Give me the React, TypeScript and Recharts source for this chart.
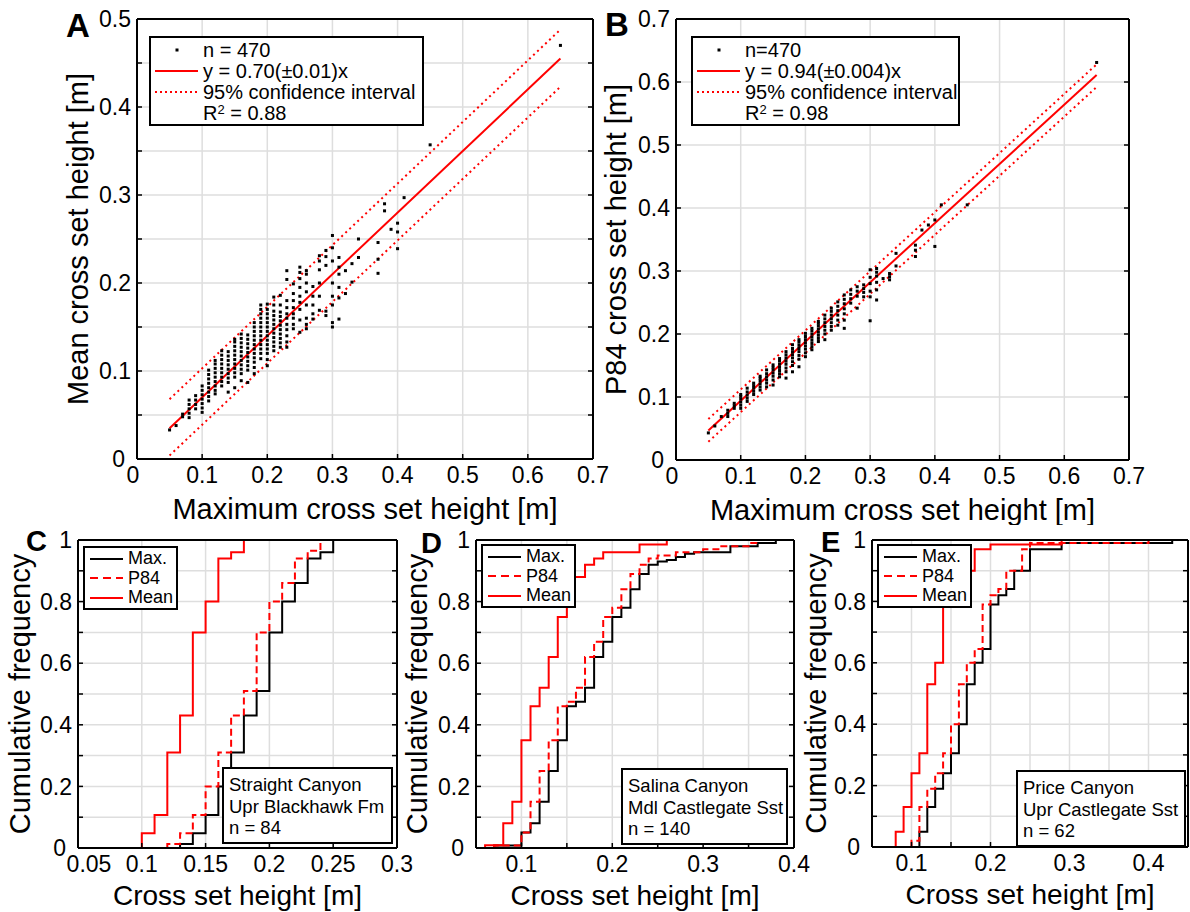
import React from 'react';
import { ComposedChart, Scatter, Line, XAxis, YAxis, CartesianGrid, Legend } from 'recharts';

const FONT = '"Liberation Sans", Arial, Helvetica, sans-serif';
const RED = '#ff0000';
const AXIS = { stroke: '#000', strokeWidth: 2 };

type Col = [number, number[]];

const meanCols: Col[] = [
  [0.05, [0.033]],
  [0.06, [0.038]],
  [0.07, [0.048, 0.051]],
  [0.08, [0.047, 0.052, 0.057, 0.062, 0.067]],
  [0.09, [0.057, 0.062, 0.067, 0.072]],
  [0.1, [0.053, 0.058, 0.063, 0.068, 0.073, 0.078, 0.083]],
  [0.11, [0.066, 0.071, 0.076, 0.081, 0.086, 0.091, 0.096, 0.101]],
  [0.12, [0.074, 0.078, 0.083, 0.088, 0.093, 0.098, 0.103, 0.108, 0.112]],
  [0.13, [0.083, 0.088, 0.093, 0.098, 0.103, 0.108, 0.113, 0.118, 0.123]],
  [0.14, [0.076, 0.087, 0.092, 0.097, 0.102, 0.107, 0.112, 0.117, 0.122]],
  [0.15, [0.081, 0.093, 0.098, 0.103, 0.108, 0.113, 0.118, 0.123, 0.128, 0.133, 0.136]],
  [0.16, [0.089, 0.097, 0.102, 0.107, 0.112, 0.117, 0.122, 0.127, 0.132, 0.137, 0.142]],
  [0.17, [0.087, 0.101, 0.106, 0.111, 0.116, 0.121, 0.126, 0.131, 0.136, 0.141]],
  [0.18, [0.097, 0.104, 0.11, 0.115, 0.12, 0.125, 0.13, 0.135, 0.14, 0.145, 0.15, 0.155]],
  [0.19, [0.114, 0.12, 0.125, 0.13, 0.135, 0.14, 0.145, 0.15, 0.155, 0.16, 0.165, 0.17, 0.175]],
  [0.2, [0.106, 0.113, 0.12, 0.125, 0.13, 0.135, 0.14, 0.145, 0.15, 0.155, 0.16, 0.165, 0.17, 0.176]],
  [0.21, [0.123, 0.128, 0.133, 0.138, 0.143, 0.148, 0.153, 0.158, 0.163, 0.168, 0.175, 0.184]],
  [0.22, [0.127, 0.132, 0.137, 0.142, 0.147, 0.152, 0.157, 0.162, 0.167, 0.175, 0.186]],
  [0.23, [0.127, 0.133, 0.14, 0.147, 0.153, 0.16, 0.165, 0.172, 0.18, 0.204, 0.214]],
  [0.24, [0.148, 0.153, 0.16, 0.165, 0.172, 0.18, 0.188, 0.199]],
  [0.25, [0.144, 0.158, 0.17, 0.178, 0.185, 0.195, 0.205, 0.212, 0.218]],
  [0.26, [0.148, 0.153, 0.16, 0.175, 0.19, 0.2, 0.21, 0.214]],
  [0.27, [0.159, 0.165, 0.175, 0.185, 0.196]],
  [0.28, [0.169, 0.185, 0.2, 0.215, 0.225, 0.231]],
  [0.29, [0.163, 0.168, 0.22, 0.23, 0.237]],
  [0.3, [0.15, 0.155, 0.175, 0.185, 0.2, 0.225, 0.24, 0.254]],
  [0.31, [0.159, 0.183, 0.195, 0.21, 0.218, 0.229]],
  [0.32, [0.188, 0.214]],
  [0.33, [0.201, 0.222]],
  [0.34, [0.229, 0.25]],
  [0.37, [0.211, 0.227, 0.246]],
  [0.38, [0.282, 0.29]],
  [0.39, [0.261]],
  [0.4, [0.239, 0.258, 0.268]],
  [0.41, [0.297]],
  [0.45, [0.357]],
  [0.65, [0.47]],
];

const p84Cols: Col[] = [
  [0.05, [0.043]],
  [0.06, [0.054]],
  [0.07, [0.069]],
  [0.08, [0.069, 0.074, 0.079]],
  [0.09, [0.082, 0.086, 0.09]],
  [0.1, [0.082, 0.087, 0.092, 0.097, 0.101, 0.104]],
  [0.11, [0.093, 0.098, 0.103, 0.108, 0.114]],
  [0.12, [0.104, 0.109, 0.114, 0.118, 0.122]],
  [0.13, [0.111, 0.116, 0.121, 0.126, 0.13, 0.133]],
  [0.14, [0.116, 0.122, 0.127, 0.132, 0.137, 0.143]],
  [0.15, [0.119, 0.127, 0.133, 0.138, 0.143, 0.147, 0.151]],
  [0.16, [0.132, 0.137, 0.142, 0.147, 0.152, 0.157, 0.161]],
  [0.17, [0.13, 0.14, 0.146, 0.152, 0.157, 0.162, 0.167, 0.172]],
  [0.18, [0.14, 0.15, 0.156, 0.162, 0.167, 0.172, 0.177, 0.183]],
  [0.19, [0.148, 0.16, 0.166, 0.172, 0.177, 0.182, 0.187, 0.191]],
  [0.2, [0.164, 0.17, 0.176, 0.181, 0.186, 0.191, 0.196, 0.201]],
  [0.21, [0.175, 0.18, 0.185, 0.19, 0.195, 0.2, 0.205, 0.209]],
  [0.22, [0.188, 0.193, 0.198, 0.203, 0.208, 0.213, 0.217, 0.22]],
  [0.23, [0.191, 0.2, 0.206, 0.212, 0.218, 0.224, 0.23]],
  [0.24, [0.206, 0.212, 0.218, 0.224, 0.23, 0.236, 0.241]],
  [0.25, [0.214, 0.222, 0.23, 0.237, 0.244, 0.251]],
  [0.26, [0.209, 0.222, 0.232, 0.24, 0.248, 0.255, 0.262]],
  [0.27, [0.249, 0.256, 0.263, 0.27]],
  [0.28, [0.241, 0.26, 0.268, 0.275]],
  [0.29, [0.259, 0.266, 0.272, 0.278]],
  [0.3, [0.221, 0.259, 0.268, 0.28, 0.29, 0.302]],
  [0.31, [0.254, 0.27, 0.282, 0.292, 0.298, 0.304]],
  [0.32, [0.288]],
  [0.33, [0.286, 0.291, 0.296]],
  [0.34, [0.308, 0.328]],
  [0.37, [0.323, 0.333, 0.341]],
  [0.38, [0.365]],
  [0.39, [0.373]],
  [0.4, [0.339, 0.381]],
  [0.41, [0.405]],
  [0.45, [0.405]],
  [0.65, [0.631]],
];

// regression lines and 95% bands, evaluated at the ends of the data range
const fitX = [0.05, 0.65];
const meanFit = [0.035, 0.455];
const meanUpper = [0.068, 0.488];
const meanLower = [0.004, 0.423];
const p84Fit = [0.047, 0.611];
const p84Upper = [0.065, 0.628];
const p84Lower = [0.029, 0.592];

// empirical CDF steps: [cross set height, cumulative frequency]
type Step = [number, number][];

const straightMax: Step = [[0.13, 0], [0.13, 0.013], [0.14, 0.048], [0.15, 0.107], [0.16, 0.2], [0.17, 0.31], [0.18, 0.43], [0.19, 0.51], [0.2, 0.7], [0.21, 0.8], [0.22, 0.86], [0.23, 0.94], [0.24, 0.96], [0.25, 1]];
const straightP84: Step = [[0.12, 0], [0.12, 0.013], [0.13, 0.048], [0.14, 0.107], [0.15, 0.2], [0.16, 0.31], [0.17, 0.43], [0.18, 0.51], [0.19, 0.7], [0.2, 0.8], [0.21, 0.86], [0.22, 0.94], [0.23, 0.965], [0.24, 0.99]];
const straightMean: Step = [[0.1, 0], [0.1, 0.048], [0.11, 0.107], [0.12, 0.31], [0.13, 0.43], [0.14, 0.7], [0.15, 0.8], [0.16, 0.94], [0.17, 0.96], [0.18, 1]];

const salinaMax: Step = [[0.07, 0], [0.07, 0.008], [0.1, 0.05], [0.11, 0.08], [0.12, 0.15], [0.13, 0.25], [0.14, 0.35], [0.15, 0.46], [0.16, 0.475], [0.17, 0.52], [0.18, 0.62], [0.19, 0.67], [0.2, 0.75], [0.21, 0.78], [0.22, 0.84], [0.23, 0.89], [0.24, 0.92], [0.25, 0.93], [0.26, 0.935], [0.27, 0.945], [0.28, 0.955], [0.29, 0.96], [0.33, 0.98], [0.36, 0.99], [0.38, 1]];
const salinaP84: Step = [[0.07, 0], [0.07, 0.008], [0.1, 0.05], [0.11, 0.15], [0.12, 0.25], [0.13, 0.35], [0.14, 0.46], [0.15, 0.475], [0.16, 0.52], [0.17, 0.62], [0.18, 0.67], [0.19, 0.75], [0.2, 0.78], [0.21, 0.84], [0.22, 0.89], [0.23, 0.92], [0.24, 0.94], [0.25, 0.95], [0.27, 0.96], [0.3, 0.97], [0.32, 0.98], [0.35, 0.99], [0.36, 1]];
const salinaMean: Step = [[0.06, 0], [0.06, 0.009], [0.08, 0.08], [0.09, 0.15], [0.1, 0.35], [0.11, 0.46], [0.12, 0.52], [0.13, 0.62], [0.14, 0.75], [0.15, 0.88], [0.17, 0.92], [0.18, 0.94], [0.19, 0.96], [0.23, 0.985], [0.26, 1]];

const priceMax: Step = [[0.11, 0], [0.11, 0.05], [0.12, 0.13], [0.13, 0.19], [0.14, 0.24], [0.15, 0.305], [0.16, 0.4], [0.17, 0.53], [0.18, 0.6], [0.19, 0.645], [0.2, 0.79], [0.21, 0.82], [0.22, 0.84], [0.23, 0.9], [0.25, 0.97], [0.29, 0.99], [0.43, 1]];
const priceP84: Step = [[0.1, 0], [0.1, 0.02], [0.11, 0.13], [0.12, 0.19], [0.13, 0.24], [0.14, 0.305], [0.15, 0.4], [0.16, 0.53], [0.17, 0.6], [0.18, 0.645], [0.19, 0.79], [0.2, 0.82], [0.21, 0.84], [0.22, 0.9], [0.24, 0.97], [0.25, 0.99], [0.4, 1]];
const priceMean: Step = [[0.08, 0], [0.08, 0.05], [0.09, 0.13], [0.1, 0.24], [0.11, 0.305], [0.12, 0.53], [0.13, 0.6], [0.14, 0.9], [0.18, 0.97], [0.2, 0.985], [0.29, 1]];

// ticks (gridlines) and which of them carry a label
const abXTicks = [0, 0.1, 0.2, 0.3, 0.4, 0.5, 0.6, 0.7];
const aYTicks = [0, 0.05, 0.1, 0.15, 0.2, 0.25, 0.3, 0.35, 0.4, 0.45, 0.5];
const aYLabels = [0, 0.1, 0.2, 0.3, 0.4, 0.5];
const bYTicks = [0, 0.1, 0.2, 0.3, 0.4, 0.5, 0.6, 0.7];
const cXTicks = [0.05, 0.1, 0.15, 0.2, 0.25, 0.3];
const dXTicks = [0.05, 0.1, 0.15, 0.2, 0.25, 0.3, 0.35, 0.4];
const eXTicks = [0.05, 0.1, 0.15, 0.2, 0.25, 0.3, 0.35, 0.4, 0.45];
const deXLabels = [0.1, 0.2, 0.3, 0.4];
const cdfYTicks = [0, 0.1, 0.2, 0.3, 0.4, 0.5, 0.6, 0.7, 0.8, 0.9, 1];
const cdfYLabels = [0, 0.2, 0.4, 0.6, 0.8, 1];

const toScatter = (cols: Col[]) => cols.flatMap(([x, ys]) => ys.map((y) => ({ x, y })));
const toLine = (xs: number[], ys: number[]) => xs.map((x, i) => ({ x, y: ys[i] }));
const toSteps = (s: Step) => s.map(([x, y]) => ({ x, y }));

const Dot = (p: any) => <rect x={p.cx - 1.5} y={p.cy - 1.5} width={3} height={3} fill="#000" />;

// inward tick marks; the labels at the lower-left corner are nudged apart, as in the source
function makeTick(side: 'bottom' | 'top' | 'left' | 'right', labels: number[] = [], cornerShift = 0) {
  return function Tick(props: any) {
    const { x, y, payload, index } = props;
    const v = Number(payload.value);
    const show = labels.some((l) => Math.abs(l - v) < 1e-9);
    const txt = String(Number(v.toFixed(2)));
    const t = { fontFamily: FONT, fontSize: 23, fill: '#000' };
    const corner = index === 0;
    if (side === 'bottom') {
      return (
        <g>
          <line x1={x} x2={x} y1={y} y2={y - 5} stroke="#000" strokeWidth={1.5} />
          {show && <text x={x + (corner ? cornerShift : 0)} y={y + 8} dy="0.71em" textAnchor="middle" {...t}>{txt}</text>}
        </g>
      );
    }
    if (side === 'left') {
      return (
        <g>
          <line x1={x} x2={x + 5} y1={y} y2={y} stroke="#000" strokeWidth={1.5} />
          {show && <text x={x - (corner ? 12 : 6)} y={y} dy="0.36em" textAnchor="end" {...t}>{txt}</text>}
        </g>
      );
    }
    if (side === 'top') return <line x1={x} x2={x} y1={y} y2={y + 5} stroke="#000" strokeWidth={1.5} />;
    return <line x1={x} x2={x - 5} y1={y} y2={y} stroke="#000" strokeWidth={1.5} />;
  };
}

// axes are 1px thick (a 0px axis is not drawn); the chart margins allow for that pixel
function frame(
  xDomain: [number, number], xTicks: number[], xLabels: number[], cornerShift: number,
  yDomain: [number, number], yTicks: number[], yLabels: number[],
  xTitle: string, xTitleSize: number, xTitleOffset: number, yTitle: string, yOffset: number,
) {
  const title = { fontFamily: FONT, fill: '#000' };
  return [
    <XAxis key="xb" dataKey="x" type="number" domain={xDomain} ticks={xTicks} interval={0} height={1}
      tickSize={0} tickMargin={0} tickLine={false} tick={makeTick('bottom', xLabels, cornerShift)} axisLine={AXIS}
      allowDataOverflow label={{ value: xTitle, position: 'bottom', offset: xTitleOffset, fontSize: xTitleSize, ...title }} />,
    <XAxis key="xt" xAxisId="top" orientation="top" type="number" domain={xDomain} ticks={xTicks} interval={0}
      height={1} tickSize={0} tickMargin={0} tickLine={false} tick={makeTick('top')} axisLine={AXIS} allowDataOverflow />,
    <YAxis key="yl" dataKey="y" type="number" domain={yDomain} ticks={yTicks} interval={0} width={1}
      tickSize={0} tickMargin={0} tickLine={false} tick={makeTick('left', yLabels)} axisLine={AXIS}
      allowDataOverflow
      label={{ value: yTitle, angle: -90, position: 'left', offset: yOffset - 1, fontSize: 29, style: { textAnchor: 'middle' }, ...title }} />,
    <YAxis key="yr" yAxisId="right" orientation="right" type="number" domain={yDomain} ticks={yTicks} interval={0}
      width={1} tickSize={0} tickMargin={0} tickLine={false} tick={makeTick('right')} axisLine={AXIS} allowDataOverflow />,
  ];
}

// plot-area margins less the 1px taken by each axis
const m = (top: number, right: number, bottom: number, left: number) => ({
  top: top - 1, right: right - 1, bottom: bottom - 1, left: left - 1,
});

type Sample = 'dot' | 'solid' | 'dashed' | 'dotted';

const Sup = ({ children }: { children: React.ReactNode }) => (
  <span style={{ fontSize: '0.65em', lineHeight: 1, verticalAlign: '0.45em' }}>{children}</span>
);

function FitLegend({ width, rows }: { width: number; rows: { s?: Sample; label: React.ReactNode }[] }) {
  return (
    <div style={{ width, height: 90, boxSizing: 'border-box', border: '2px solid #000', background: '#fff',
      paddingTop: 2, fontFamily: FONT, fontSize: 20, color: '#000' }}>
      {rows.map((r, i) => (
        <div key={i} style={{ display: 'flex', alignItems: 'center', height: 20.7 }}>
          <svg width={52} height={20} style={{ flex: 'none' }}>
            {r.s === 'dot' && <rect x={24.5} y={8.5} width={3} height={3} fill="#000" />}
            {r.s === 'solid' && <line x1={4} x2={47} y1={10} y2={10} stroke={RED} strokeWidth={2} />}
            {r.s === 'dotted' && <line x1={4} x2={47} y1={10} y2={10} stroke={RED} strokeWidth={2} strokeDasharray="2 3" />}
          </svg>
          <span style={{ whiteSpace: 'nowrap', lineHeight: '18px' }}>{r.label}</span>
        </div>
      ))}
    </div>
  );
}

function CdfLegend() {
  const rows: { c: string; d?: string; label: string }[] = [
    { c: '#000', label: 'Max.' },
    { c: RED, d: '8 5', label: 'P84' },
    { c: RED, label: 'Mean' },
  ];
  return (
    <div style={{ width: 95, height: 64, boxSizing: 'border-box', border: '2px solid #000', background: '#fff',
      paddingTop: 1, fontFamily: FONT, fontSize: 18, color: '#000' }}>
      {rows.map((r) => (
        <div key={r.label} style={{ display: 'flex', alignItems: 'center', height: 19.5 }}>
          <svg width={43} height={18} style={{ flex: 'none' }}>
            <line x1={5} x2={38} y1={9} y2={9} stroke={r.c} strokeWidth={2} strokeDasharray={r.d} />
          </svg>
          <span style={{ whiteSpace: 'nowrap', lineHeight: '17px' }}>{r.label}</span>
        </div>
      ))}
    </div>
  );
}

function Note({ x, y, w, lines }: { x: number; y: number; w: number; lines: string[] }) {
  return (
    <g>
      <rect x={x} y={y} width={w} height={75} fill="#fff" stroke="#000" strokeWidth={2} />
      {lines.map((l, i) => (
        <text key={i} x={x + 6} y={y + 23 + i * 21.5} fontFamily={FONT} fontSize={18.5} fill="#000">{l}</text>
      ))}
    </g>
  );
}

function Scatterplot({ cols, fit, upper, lower, yDomain, yTicks, yLabels, yTitle, yOffset, margin, width, legend, legendLeft, legendWidth }: any) {
  return (
    <ComposedChart width={width} height={525} margin={margin}>
      <CartesianGrid stroke="#dedede" strokeWidth={1.5} />
      <Scatter data={toScatter(cols)} dataKey="y" shape={Dot} isAnimationActive={false} />
      <Line data={toLine(fitX, upper)} dataKey="y" stroke={RED} strokeWidth={2} strokeDasharray="2 3.5" dot={false} isAnimationActive={false} />
      <Line data={toLine(fitX, lower)} dataKey="y" stroke={RED} strokeWidth={2} strokeDasharray="2 3.5" dot={false} isAnimationActive={false} />
      <Line data={toLine(fitX, fit)} dataKey="y" stroke={RED} strokeWidth={2} dot={false} isAnimationActive={false} />
      {frame([0, 0.7], abXTicks, abXTicks, -4, yDomain, yTicks, yLabels,
        'Maximum cross set height [m]', 29, 38, yTitle, yOffset)}
      <Legend layout="vertical" align="center" verticalAlign="middle" width={legendWidth}
        wrapperStyle={{ left: legendLeft, top: 36 }} content={() => legend} />
    </ComposedChart>
  );
}

function CdfPlot({ max, p84, mean, xDomain, xTicks, xLabels, cornerShift, width, margin, yOffset, legendLeft, legendTop }: any) {
  return (
    <ComposedChart width={width} height={387} margin={margin}>
      <CartesianGrid stroke="#dedede" strokeWidth={1.5} />
      <Line data={toSteps(max)} dataKey="y" type="stepAfter" stroke="#000" strokeWidth={2} dot={false} isAnimationActive={false} />
      <Line data={toSteps(p84)} dataKey="y" type="stepAfter" stroke={RED} strokeWidth={2} strokeDasharray="7 4" dot={false} isAnimationActive={false} />
      <Line data={toSteps(mean)} dataKey="y" type="stepAfter" stroke={RED} strokeWidth={2} dot={false} isAnimationActive={false} />
      {frame(xDomain, xTicks, xLabels, cornerShift, [0, 1], cdfYTicks, cdfYLabels,
        'Cross set height [m]', 28, 36, 'Cumulative frequency', yOffset)}
      <Legend layout="vertical" align="center" verticalAlign="middle" width={95}
        wrapperStyle={{ left: legendLeft, top: legendTop }} content={() => <CdfLegend />} />
    </ComposedChart>
  );
}

export default function App() {
  const abs = (left: number, top: number): React.CSSProperties => ({ position: 'absolute', left, top });
  return (
    <div style={{ position: 'absolute', left: 0, top: 0, width: 1190, height: 912, background: '#fff', overflow: 'hidden' }}>
      <div style={abs(0, 0)}>
        <Scatterplot cols={meanCols} fit={meanFit} upper={meanUpper} lower={meanLower}
          yDomain={[0, 0.5]} yTicks={aYTicks} yLabels={aYLabels} yTitle="Mean cross set height [m]" yOffset={59}
          width={620} margin={m(19, 27, 66, 137)} legendLeft={149} legendWidth={275}
          legend={<FitLegend width={275} rows={[
            { s: 'dot', label: 'n = 470' },
            { s: 'solid', label: 'y = 0.70(±0.01)x' },
            { s: 'dotted', label: '95% confidence interval' },
            { label: <span>R<Sup>2</Sup> = 0.88</span> },
          ]} />} />
      </div>
      <div style={abs(590, 0)}>
        <Scatterplot cols={p84Cols} fit={p84Fit} upper={p84Upper} lower={p84Lower}
          yDomain={[0, 0.7]} yTicks={bYTicks} yLabels={bYTicks} yTitle="P84 cross set height [m]" yOffset={60}
          width={600} margin={m(19, 61, 65, 86)} legendLeft={101} legendWidth={269}
          legend={<FitLegend width={269} rows={[
            { s: 'dot', label: 'n=470' },
            { s: 'solid', label: 'y = 0.94(±0.004)x' },
            { s: 'dotted', label: '95% confidence interval' },
            { label: <span>R<Sup>2</Sup> = 0.98</span> },
          ]} />} />
      </div>
      <div style={abs(0, 525)}>
        <CdfPlot max={straightMax} p84={straightP84} mean={straightMean} xDomain={[0.05, 0.3]} xTicks={cXTicks} xLabels={cXTicks}
          cornerShift={11} width={430} margin={m(15, 33, 64, 78)} yOffset={58} legendLeft={83} legendTop={21} />
      </div>
      <div style={abs(398, 525)}>
        <CdfPlot max={salinaMax} p84={salinaP84} mean={salinaMean} xDomain={[0.05, 0.4]} xTicks={dXTicks} xLabels={deXLabels}
          cornerShift={0} width={420} margin={m(15, 24, 64, 78)} yOffset={59} legendLeft={83} legendTop={19} />
      </div>
      <div style={abs(796, 525)}>
        <CdfPlot max={priceMax} p84={priceP84} mean={priceMean} xDomain={[0.05, 0.45]} xTicks={eXTicks} xLabels={deXLabels}
          cornerShift={0} width={394} margin={m(15, 2, 65, 76)} yOffset={56} legendLeft={81} legendTop={19} />
      </div>
      <svg width={1190} height={912} style={{ position: 'absolute', left: 0, top: 0, pointerEvents: 'none' }}>
        <g fontFamily={FONT} fontWeight="bold" fill="#000">
          <text x={66} y={37} fontSize={33}>A</text>
          <text x={605} y={36} fontSize={33}>B</text>
          <text x={26} y={551} fontSize={29}>C</text>
          <text x={421} y={553} fontSize={29}>D</text>
          <text x={821} y={552} fontSize={29}>E</text>
        </g>
        <Note x={223} y={768} w={169} lines={['Straight Canyon', 'Upr Blackhawk Fm', 'n = 84']} />
        <Note x={622} y={769} w={165} lines={['Salina Canyon', 'Mdl Castlegate Sst', 'n = 140']} />
        <Note x={1017} y={771} w={168} lines={['Price Canyon', 'Upr Castlegate Sst', 'n = 62']} />
      </svg>
    </div>
  );
}
